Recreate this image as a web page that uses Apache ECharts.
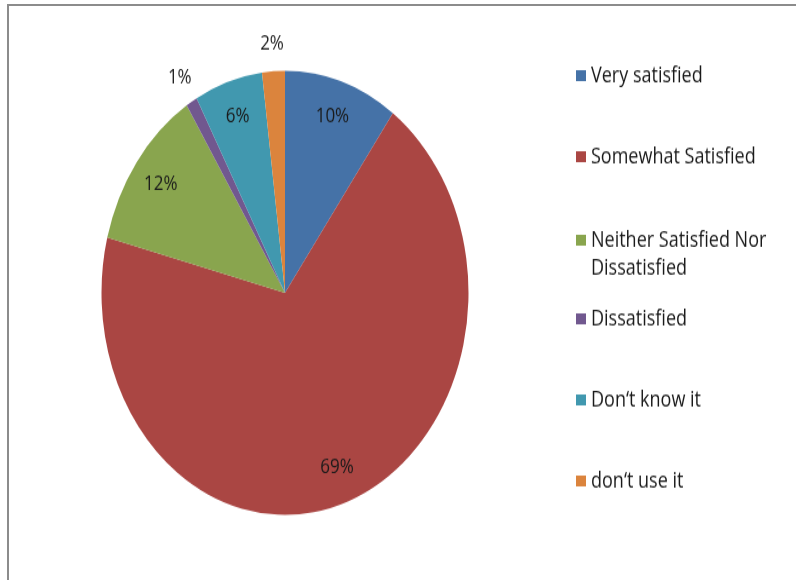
<!DOCTYPE html>
<html>
<head>
<meta charset="utf-8">
<script src="https://cdn.jsdelivr.net/npm/echarts@6/dist/echarts.min.js"></script>
<style>
  html, body { margin: 0; padding: 0; background: #ffffff; overflow: hidden; }
  #frame {
    position: absolute; left: 7px; top: 4px; width: 789px; height: 576px;
    border-top: 2px solid #8c8c8c; border-left: 2px solid #8c8c8c;
    box-sizing: border-box;
  }
  #chart {
    position: absolute; left: 0; top: 0; width: 796px; height: 479px;
    transform: scaleY(1.21); transform-origin: 0 0;
  }
</style>
</head>
<body>
<div id="frame"></div>
<div id="chart"></div>
<script>
// Satisfaction survey answers, share of respondents in percent
const categories = [
  'Very satisfied',
  'Somewhat Satisfied',
  'Neither Satisfied Nor\nDissatisfied',
  'Dissatisfied',
  "Don\u2018t know it",
  "don\u2018t use it"
];
const shares = [10, 69, 12, 1, 6, 2];
const palette = ['#4572A7', '#AA4643', '#89A54E', '#71588F', '#4198AF', '#DB843D'];

const FONT = '"Open Sans", "Liberation Sans", sans-serif';
const R = 183.5;
const CENTER = [285, 242];

const pieData = categories.map((name, i) => ({
  name: name,
  value: shares[i],
  itemStyle: { color: palette[i] }
}));

// Transparent copies of the pie, used only to place the percentage labels
function labelRing(radius, showFn) {
  return {
    type: 'pie',
    silent: true,
    animation: false,
    center: CENTER,
    radius: radius,
    startAngle: 90,
    clockwise: true,
    emphasis: { disabled: true },
    itemStyle: { color: 'rgba(0,0,0,0)', borderWidth: 0 },
    label: {
      position: 'inside',
      formatter: '{c}%',
      color: '#1a1a1a',
      fontFamily: FONT,
      fontSize: 17
    },
    labelLine: { show: false },
    data: categories.map((name, i) => ({
      name: name,
      value: shares[i],
      label: { show: showFn(shares[i]) }
    }))
  };
}

const legendText = { fontFamily: FONT, fontSize: 18, color: '#1a1a1a', lineHeight: 23 };
function legendItem(i) {
  return { name: categories[i], itemStyle: { color: palette[i] } };
}
const legendBase = {
  orient: 'vertical',
  left: 576,
  padding: 0,
  itemGap: 44,
  itemWidth: 10,
  itemHeight: 9,
  icon: 'rect',
  textStyle: legendText,
  selectedMode: false
};

const chart = echarts.init(document.getElementById('chart'), null, { renderer: 'canvas' });
chart.setOption({
  animation: false,
  backgroundColor: 'transparent',
  legend: [
    Object.assign({}, legendBase, { top: 51, data: [legendItem(0), legendItem(1)] }),
    // two-line entry: a blank leading line keeps the marker beside the first line
    Object.assign({}, legendBase, {
      top: 164,
      data: [legendItem(2)],
      formatter: name => '\n' + name
    }),
    Object.assign({}, legendBase, { top: 252, data: [legendItem(3), legendItem(4), legendItem(5)] })
  ],
  series: [
    {
      type: 'pie',
      name: 'Satisfaction',
      animation: false,
      center: CENTER,
      radius: R,
      startAngle: 90,
      clockwise: true,
      emphasis: { disabled: true },
      itemStyle: { borderWidth: 0 },
      label: { show: false },
      labelLine: { show: false },
      data: pieData
    },
    // large slices: label inside the slice
    labelRing(R * 1.64, v => v >= 3),
    // thin slices: label just beyond the rim
    labelRing(R * 2.22, v => v < 3)
  ]
});
</script>
</body>
</html>
